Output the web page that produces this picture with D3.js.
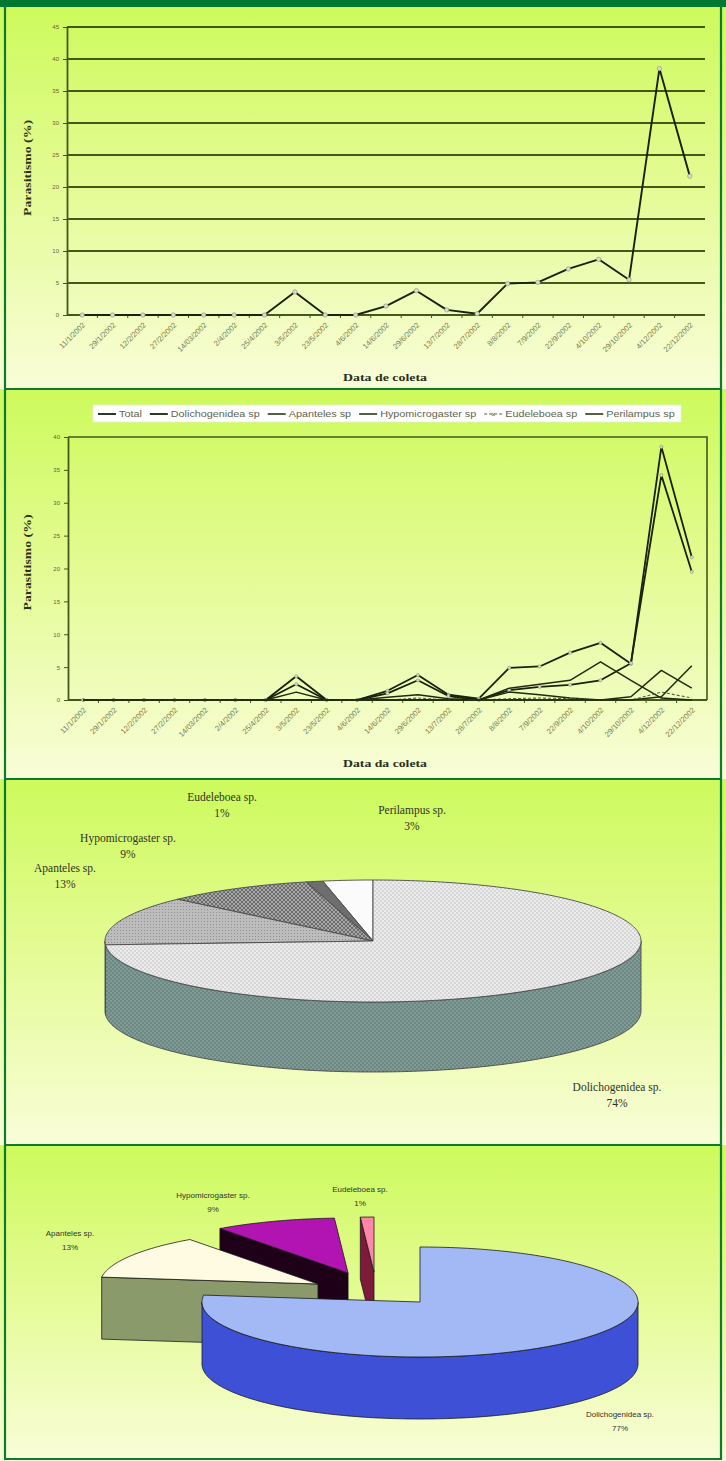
<!DOCTYPE html>
<html>
<head>
<meta charset="utf-8">
<script src="https://cdn.jsdelivr.net/npm/d3@7"></script>
<style>
  html, body { margin: 0; padding: 0; background: #e6fb9a; }
  svg { display: block; }
</style>
</head>
<body>
<svg id="page" width="726" height="1461"></svg>
<script>
// ---------- data ----------
const dates = ["11/1/2002","29/1/2002","12/2/2002","27/2/2002","14/03/2002","2/4/2002","25/4/2002",
  "3/5/2002","23/5/2002","4/6/2002","14/6/2002","29/6/2002","13/7/2002","28/7/2002","8/8/2002",
  "7/9/2002","22/9/2002","4/10/2002","29/10/2002","4/12/2002","22/12/2002"];

const totalValues          = [0,0,0,0,0,0,0,3.6,0,0,1.4,3.8,0.8,0.2,4.9,5.1,7.2,8.7,5.5,38.5,21.7];
const dolichogenideaValues = [0,0,0,0,0,0,0,2.4,0,0,1.0,3.0,0.6,0,1.5,2.0,2.3,3.0,5.6,34.2,19.5];
const apantelesValues      = [0,0,0,0,0,0,0,1.2,0,0,0.4,0.8,0.2,0,1.8,2.4,3.0,5.8,3.0,0.3,0];
const hypomicrogasterValues= [0,0,0,0,0,0,0,0,0,0,0,0,0,0,1.2,0.8,0.3,0,0.5,4.5,1.8];
const eudeleboeaValues     = [0,0,0,0,0,0,0,0,0,0,0,0.3,0,0,0.2,0.3,0.2,0,0,1.2,0.3];
const perilampusValues     = [0,0,0,0,0,0,0,0,0,0,0,0,0,0,0,0,0,0,0,0.5,5.2];

const seriesNames = ["Total","Dolichogenidea sp","Apanteles sp","Hypomicrogaster sp","Eudeleboea sp","Perilampus sp"];

const yTicksTop = [0,5,10,15,20,25,30,35,40,45];
const yTicksSpecies = [0,5,10,15,20,25,30,35,40];

const pieNamesA  = ["Dolichogenidea sp.","Apanteles sp.","Hypomicrogaster sp.","Eudeleboea sp.","Perilampus sp."];
const pieSharesA = [74,13,9,1,3];
const pieNamesB  = ["Dolichogenidea sp.","Apanteles sp.","Hypomicrogaster sp.","Eudeleboea sp."];
const pieSharesB = [77,13,9,1];

// ---------- page frame ----------
const svg = d3.select("#page");
const defs = svg.append("defs");

const bg = defs.append("linearGradient").attr("id","panelBg")
  .attr("x1",0).attr("y1",0).attr("x2",0).attr("y2",1);
bg.append("stop").attr("offset","0%").attr("stop-color","#cdfa5c");
bg.append("stop").attr("offset","45%").attr("stop-color","#e3fb92");
bg.append("stop").attr("offset","100%").attr("stop-color","#f9fdd8");

const bands = [[7,389],[389,779],[779,1145],[1145,1461]];
svg.selectAll("rect.bg").data(bands).join("rect").attr("class","bg")
  .attr("x",0).attr("y",d=>d[0]).attr("width",726).attr("height",d=>d[1]-d[0])
  .attr("fill","url(#panelBg)");

svg.append("rect").attr("x",0).attr("y",0).attr("width",726).attr("height",7).attr("fill","#00782f");

const frame = svg.append("g").attr("stroke","#0d7a2e").attr("stroke-width",2.2).attr("fill","none");
frame.append("line").attr("x1",5).attr("x2",5).attr("y1",6).attr("y2",1459);
frame.append("line").attr("x1",721).attr("x2",721).attr("y1",6).attr("y2",1459);
[389,779,1145,1459].forEach(yy => frame.append("line").attr("x1",4).attr("x2",722).attr("y1",yy).attr("y2",yy));

// ---------- line charts ----------
const ink = "#18220a";
const gridInk = "#45571a";
const sans = "Liberation Sans, Arial, sans-serif";
const serif = "Liberation Serif, Times New Roman, serif";

function lineChart(cfg) {
  const g = svg.append("g");
  const x = d3.scaleBand().domain(dates).range([cfg.left, cfg.right]);
  const y = d3.scaleLinear().domain([0, cfg.yMax]).range([cfg.bottom, cfg.top]);
  const cxOf = d => x(d) + x.bandwidth() / 2;

  if (cfg.grid) {
    g.selectAll("line.grid").data(cfg.ticks.filter(t => t > 0)).join("line")
      .attr("x1", cfg.left).attr("x2", cfg.right)
      .attr("y1", d => y(d)).attr("y2", d => y(d))
      .attr("stroke", gridInk).attr("stroke-width", 1.8);
  } else {
    g.append("path")
      .attr("d", `M${cfg.left},${cfg.top}H${cfg.right}V${cfg.bottom}`)
      .attr("fill","none").attr("stroke", gridInk).attr("stroke-width", 1.6);
  }

  // y axis
  const yAxis = g.append("g").attr("transform", `translate(${cfg.left},0)`)
    .call(d3.axisLeft(y).tickValues(cfg.ticks).tickSize(4).tickSizeOuter(0).tickPadding(4));
  yAxis.select(".domain").attr("stroke", gridInk).attr("stroke-width", 1.8);
  yAxis.selectAll(".tick line").attr("stroke", gridInk).attr("stroke-width", 1);
  yAxis.selectAll(".tick text").attr("font-family", sans)
    .attr("font-size", 6).attr("fill", "#5c6638");

  // x axis (category boundaries carry the ticks)
  g.append("line").attr("x1", cfg.left).attr("x2", cfg.right)
    .attr("y1", cfg.bottom).attr("y2", cfg.bottom)
    .attr("stroke", gridInk).attr("stroke-width", 2.2);
  g.selectAll("line.xt").data(dates.slice(1)).join("line")
    .attr("x1", d => x(d)).attr("x2", d => x(d))
    .attr("y1", cfg.bottom).attr("y2", cfg.bottom + 3)
    .attr("stroke", gridInk).attr("stroke-width", 1);
  g.selectAll("text.xl").data(dates).join("text")
    .attr("transform", d => `translate(${cxOf(d) + 2},${cfg.bottom + 9}) rotate(-45)`)
    .attr("text-anchor","end").attr("dy","0.3em")
    .attr("font-family", sans).attr("font-size", 7.6)
    .attr("fill", "#737c50").text(d => d);

  // axis titles
  g.append("text")
    .attr("transform", `translate(${cfg.yTitleX},${(cfg.top + cfg.bottom) / 2 + cfg.yTitleShift}) rotate(-90)`)
    .attr("text-anchor","middle")
    .attr("font-family", serif).attr("font-weight","bold")
    .attr("font-size", 10.5).attr("fill", "#2a2f18")
    .attr("textLength", 96).attr("lengthAdjust","spacingAndGlyphs")
    .text("Parasitismo (%)");
  g.append("text")
    .attr("x", cfg.xTitleX).attr("y", cfg.xTitleY).attr("text-anchor","middle")
    .attr("font-family", serif).attr("font-weight","bold")
    .attr("font-size", 10.5).attr("fill", "#2a2f18")
    .attr("textLength", 84).attr("lengthAdjust","spacingAndGlyphs")
    .text(cfg.xTitle);

  // series
  const line = d3.line().x((v, i) => cxOf(dates[i])).y(v => y(v));
  cfg.series.forEach(s => {
    g.append("path").datum(s.values).attr("d", line)
      .attr("fill","none").attr("stroke", s.stroke).attr("stroke-width", s.width)
      .attr("stroke-dasharray", s.dash || null).attr("stroke-linejoin","round");
    if (s.marker) {
      g.selectAll(null).data(s.values).join("circle")
        .attr("cx", (v, i) => cxOf(dates[i])).attr("cy", v => y(v)).attr("r", s.marker)
        .attr("fill", "#d9dccb").attr("stroke", "#8a8f74").attr("stroke-width", 0.6);
    }
  });
  return { g, x, y };
}

// top chart: total parasitism
lineChart({
  left: 67, right: 705, top: 27, bottom: 315, yMax: 45, ticks: yTicksTop, grid: true,
  yTitleX: 31, yTitleShift: -3, xTitle: "Data de coleta", xTitleX: 385, xTitleY: 381,
  series: [{ values: totalValues, stroke: ink, width: 1.9, marker: 2.2 }]
});

// second chart: parasitism by species
const speciesSeries = [
  { values: totalValues,           stroke: ink,      width: 1.8, marker: 1.6 },
  { values: dolichogenideaValues,  stroke: ink,      width: 1.8, marker: 1.6 },
  { values: apantelesValues,       stroke: "#1f2a0c", width: 1.5 },
  { values: hypomicrogasterValues, stroke: "#1f2a0c", width: 1.5 },
  { values: eudeleboeaValues,      stroke: "#55603a", width: 1.1, dash: "3,2" },
  { values: perilampusValues,      stroke: "#1f2a0c", width: 1.5 }
];
lineChart({
  left: 68, right: 707, top: 437, bottom: 700, yMax: 40, ticks: yTicksSpecies, grid: false,
  yTitleX: 31, yTitleShift: -6, xTitle: "Data da coleta", xTitleX: 385, xTitleY: 767,
  series: speciesSeries
});

// legend of the species chart
(function legend() {
  const lg = svg.append("g");
  lg.append("rect").attr("x", 93).attr("y", 405).attr("width", 588).attr("height", 17)
    .attr("fill", "#ffffff").attr("stroke", "#e8eed8").attr("stroke-width", 0.8);
  let cx = 98;
  seriesNames.forEach((name, i) => {
    const s = speciesSeries[i];
    lg.append("line").attr("x1", cx).attr("x2", cx + 18).attr("y1", 414).attr("y2", 414)
      .attr("stroke", s.stroke).attr("stroke-width", s.width).attr("stroke-dasharray", s.dash || null);
    if (i === 4) {
      lg.append("text").attr("x", cx + 9).attr("y", 416.5).attr("text-anchor","middle")
        .attr("font-family", sans).attr("font-size", 7).attr("fill","#55603a").text("×");
    }
    const t = lg.append("text").attr("x", cx + 21).attr("y", 417)
      .attr("font-family", sans).attr("font-size", 9)
      .attr("fill", "#5f6350").text(name);
    const w = t.node().getComputedTextLength() * 1.2;
    t.attr("textLength", w).attr("lengthAdjust", "spacingAndGlyphs");
    cx += 21 + w + 8;
  });
})();

// ---------- 3D pies ----------
function pie3D(cfg) {
  const g = svg.append("g");
  const arcs = d3.pie().sort(null).value(d => d)(cfg.shares);
  const slices = arcs.map((a, i) => ({
    i, a0: a.startAngle, a1: a.endAngle,
    ox: cfg.explode[i][0] * cfg.rx, oy: cfg.explode[i][1] * cfg.ry
  }));
  const pt = (s, t, dz) => [cfg.cx + s.ox + cfg.rx * Math.sin(t), cfg.cy + s.oy - cfg.ry * Math.cos(t) + dz];
  const arcPts = (s, t0, t1, dz) => {
    const n = Math.max(2, Math.ceil(Math.abs(t1 - t0) / 0.02));
    return d3.range(n + 1).map(k => pt(s, t0 + (t1 - t0) * k / n, dz));
  };
  const centroidY = s => cfg.cy + s.oy - cfg.ry * 0.5 * Math.cos((s.a0 + s.a1) / 2);
  const poly = pts => "M" + pts.map(p => p.join(",")).join("L") + "Z";
  const h = cfg.depth;

  slices.slice().sort((a, b) => centroidY(a) - centroidY(b)).forEach(s => {
    const exploded = s.ox !== 0 || s.oy !== 0;
    const c = [cfg.cx + s.ox, cfg.cy + s.oy];
    if (exploded) {
      [[s.a0, Math.sin(s.a0) < 0], [s.a1, Math.sin(s.a1) > 0]].forEach(([t, vis]) => {
        if (!vis) return;
        const p = pt(s, t, 0);
        g.append("path").attr("d", poly([c, p, [p[0], p[1] + h], [c[0], c[1] + h]]))
          .attr("fill", cfg.sideFills[s.i]).attr("stroke", cfg.stroke).attr("stroke-width", cfg.strokeWidth);
      });
    }
    const lo = Math.max(s.a0, Math.PI / 2), hi = Math.min(s.a1, 3 * Math.PI / 2);
    if (hi > lo) {
      const top = arcPts(s, lo, hi, 0), bot = arcPts(s, hi, lo, h);
      g.append("path").attr("d", poly(top.concat(bot)))
        .attr("fill", cfg.sideFills[s.i]).attr("stroke", cfg.stroke).attr("stroke-width", cfg.strokeWidth);
    }
    g.append("path").attr("d", poly([c].concat(arcPts(s, s.a0, s.a1, 0))))
      .attr("fill", cfg.topFills[s.i]).attr("stroke", cfg.stroke).attr("stroke-width", cfg.strokeWidth);
  });

  cfg.names.forEach((name, i) => {
    const [dx, dy] = cfg.labelAt[i];
    const t = g.append("text").attr("text-anchor","middle")
      .attr("font-family", cfg.font).attr("font-size", cfg.fontSize).attr("fill", cfg.textFill);
    t.append("tspan").attr("x", cfg.cx + dx).attr("y", cfg.cy + dy).text(name);
    t.append("tspan").attr("x", cfg.cx + dx).attr("dy", cfg.lineGap).text(cfg.shares[i] + "%");
  });
}

// hatch patterns for the monochrome pie
function pattern(id, size, bgColor, draw) {
  const p = defs.append("pattern").attr("id", id).attr("patternUnits","userSpaceOnUse")
    .attr("width", size).attr("height", size);
  p.append("rect").attr("width", size).attr("height", size).attr("fill", bgColor);
  draw(p);
}
pattern("pDolTop", 4, "#ededed", p => {
  p.append("rect").attr("width", 2).attr("height", 2).attr("fill", "#d6d6d6");
  p.append("rect").attr("x", 2).attr("y", 2).attr("width", 2).attr("height", 2).attr("fill", "#d6d6d6");
});
pattern("pDolSide", 4, "#819c96", p => {
  p.append("rect").attr("width", 2).attr("height", 2).attr("fill", "#6c8781");
  p.append("rect").attr("x", 2).attr("y", 2).attr("width", 2).attr("height", 2).attr("fill", "#6c8781");
});
pattern("pApTop", 3, "#bdbdbd", p => {
  p.append("rect").attr("width", 1).attr("height", 1).attr("fill", "#8e8e8e");
});
pattern("pHypoTop", 4, "#a6a6a6", p => {
  p.append("path").attr("d", "M0,0L4,4M4,0L0,4").attr("stroke", "#5e5e5e").attr("stroke-width", 0.8);
});

pie3D({
  cx: 373, cy: 941, rx: 268, ry: 61, depth: 70,
  shares: pieSharesA, names: pieNamesA,
  explode: [[0,0],[0,0],[0,0],[0,0],[0,0]],
  topFills: ["url(#pDolTop)","url(#pApTop)","url(#pHypoTop)","#6e6e6e","#fbfbfb"],
  sideFills: ["url(#pDolSide)","#858585","#777","#666","#ccc"],
  stroke: "#4a4a4a", strokeWidth: 0.9,
  font: serif, fontSize: 11.5, textFill: "#2f3322", lineGap: 16,
  labelAt: [[244,150],[-308,-69],[-245,-99],[-151,-140],[39,-127]]
});

pie3D({
  cx: 420, cy: 1302, rx: 218, ry: 55, depth: 62,
  shares: pieSharesB, names: pieNamesB,
  explode: [[0,0],[-0.468,-0.327],[-0.33,-0.527],[-0.211,-0.545]],
  topFills: ["#a3b9f6","#fffbe2","#b214b2","#ff86a8"],
  sideFills: ["#3e50d6","#8b9a6a","#1e0018","#7e1a3a"],
  stroke: "#1a1a1a", strokeWidth: 0.8,
  font: sans, fontSize: 8, textFill: "#333333", lineGap: 14,
  labelAt: [[200,115],[-350,-66],[-207,-104],[-60,-110]]
});
</script>
</body>
</html>
